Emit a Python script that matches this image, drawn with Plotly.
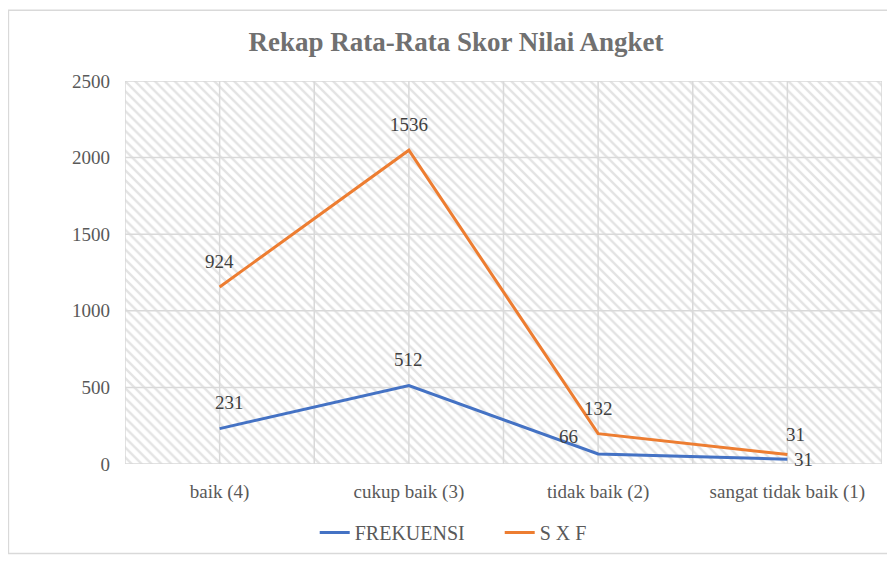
import plotly.graph_objects as go

categories = ["baik (4)", "cukup baik (3)", "tidak baik (2)", "sangat tidak baik (1)"]
frekuensi = [231, 512, 66, 31]
sxf = [924, 1536, 132, 31]
y_ticks = [0, 500, 1000, 1500, 2000, 2500]

BLUE = "#4472C4"
ORANGE = "#ED7D31"
FONT = "Liberation Serif"
GRAY = "#595959"
GRID = "#d9d9d9"

xs = list(range(len(categories)))
sxf_stacked = [f + s for f, s in zip(frekuensi, sxf)]
x_lo, x_hi = -0.5, len(categories) - 0.5
y_lo, y_hi = y_ticks[0], y_ticks[-1]

fig = go.Figure()

# hatched plot background
fig.add_trace(go.Scatter(
    x=[x_lo, x_hi, x_hi, x_lo, x_lo], y=[y_lo, y_lo, y_hi, y_hi, y_lo],
    mode="lines", line=dict(width=0), fill="toself",
    fillcolor="rgba(255,255,255,0)",
    fillpattern=dict(shape="\\", fgcolor="#c8c8c8", bgcolor="white", size=7, solidity=0.35),
    hoverinfo="skip", showlegend=False,
))

# gridlines drawn over the hatch
gx, gy = [], []
for t in y_ticks:
    gx += [x_lo, x_hi, None]
    gy += [t, t, None]
k = x_lo
while k <= x_hi + 1e-9:
    gx += [k, k, None]
    gy += [y_lo, y_hi, None]
    k += 0.5
fig.add_trace(go.Scatter(x=gx, y=gy, mode="lines", line=dict(color=GRID, width=1.5),
                         hoverinfo="skip", showlegend=False))

fig.add_trace(go.Scatter(
    x=xs, y=frekuensi, mode="lines", name="FREKUENSI",
    line=dict(color=BLUE, width=3),
))
fig.add_trace(go.Scatter(
    x=xs, y=sxf_stacked, mode="lines", name="S X F",
    line=dict(color=ORANGE, width=3),
))

# data labels
LBL = dict(family=FONT, size=19, color="#404040")
frek_offsets = [(10, 26), (0, 26), (-30, 17), (16, 0)]
sxf_offsets = [(0, 26), (0, 26), (0, 25), (8, 20)]
for i in xs:
    dx, dy = frek_offsets[i]
    fig.add_annotation(x=xs[i], y=frekuensi[i], text=str(frekuensi[i]), showarrow=False,
                       xshift=dx, yshift=dy, font=LBL)
    dx, dy = sxf_offsets[i]
    fig.add_annotation(x=xs[i], y=sxf_stacked[i], text=str(sxf[i]), showarrow=False,
                       xshift=dx, yshift=dy, font=LBL)

fig.update_layout(
    width=887, height=555,
    margin=dict(l=117, r=13, t=73, b=98),
    paper_bgcolor="white", plot_bgcolor="white",
    title=dict(text="<b>Rekap Rata-Rata Skor Nilai Angket</b>", x=0.505, xanchor="center",
               y=0.939, yanchor="middle",
               font=dict(family=FONT, size=27, color="#707070")),
    font=dict(family=FONT, size=19, color=GRAY),
    showlegend=True,
    legend=dict(orientation="h", x=0.495, xanchor="center", y=-0.125, yanchor="top",
                entrywidth=140, entrywidthmode="pixels",
                font=dict(family=FONT, size=20, color=GRAY)),
    xaxis=dict(range=[x_lo, x_hi], tickvals=xs, ticktext=categories,
               showgrid=False, zeroline=False, showline=False, ticks="",
               ticklabelstandoff=14, automargin=False,
               tickfont=dict(family=FONT, size=19, color=GRAY), fixedrange=True),
    yaxis=dict(range=[y_lo, y_hi], tickvals=y_ticks, showgrid=False,
               zeroline=False, showline=False, ticks="", ticklabelstandoff=14, automargin=False,
               tickfont=dict(family=FONT, size=19, color=GRAY), fixedrange=True),
    shapes=[dict(type="rect", xref="paper", yref="paper", x0=-0.154, x1=1.0145, y0=-0.234, y1=1.185,
                 line=dict(color=GRID, width=1.5), fillcolor="rgba(0,0,0,0)")],
)

fig.write_html("out.html")
